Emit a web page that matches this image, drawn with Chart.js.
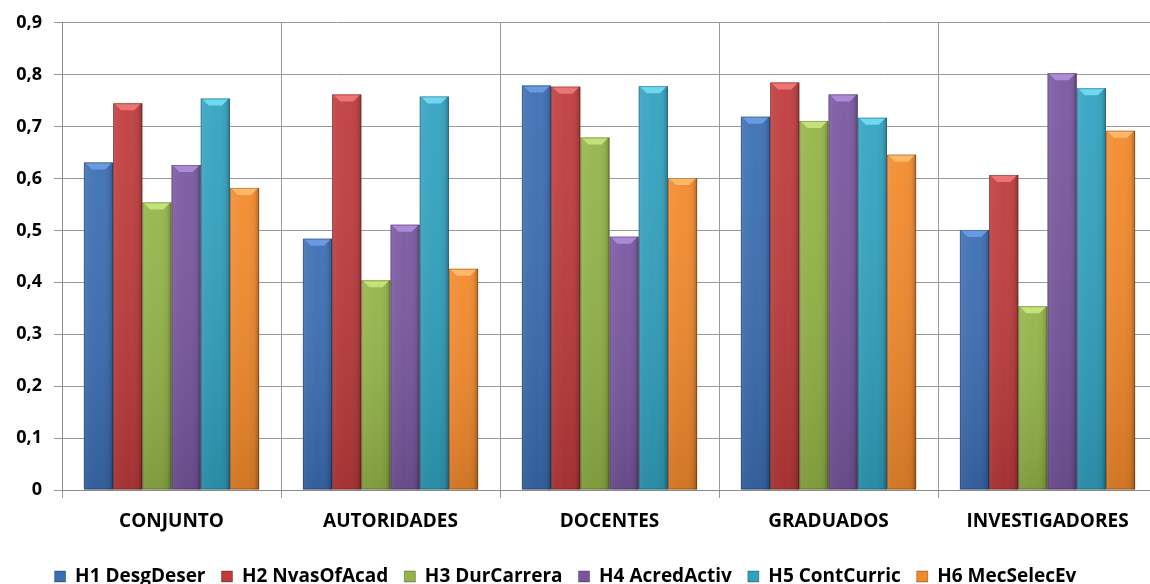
<!DOCTYPE html>
<html>
<head>
<meta charset="utf-8">
<script src="https://cdn.jsdelivr.net/npm/chart.js@4/dist/chart.umd.min.js"></script>
<style>
  html, body { margin: 0; padding: 0; background: #fff; overflow: hidden; }
  #wrap { width: 1158px; height: 584px; }
</style>
</head>
<body>
<div id="wrap"><canvas id="c" width="1158" height="584"></canvas></div>
<script>
// Grupos evaluados
const categories = ['CONJUNTO', 'AUTORIDADES', 'DOCENTES', 'GRADUADOS', 'INVESTIGADORES'];

// Series (una por hipótesis)
const seriesNames = ['H1 DesgDeser', 'H2 NvasOfAcad', 'H3 DurCarrera', 'H4 AcredActiv', 'H5 ContCurric', 'H6 MecSelecEv'];
const h1 = [0.631, 0.484, 0.779, 0.719, 0.501];
const h2 = [0.745, 0.762, 0.777, 0.785, 0.607];
const h3 = [0.554, 0.404, 0.679, 0.711, 0.354];
const h4 = [0.626, 0.511, 0.488, 0.762, 0.803];
const h5 = [0.754, 0.758, 0.778, 0.717, 0.774];
const h6 = [0.582, 0.426, 0.601, 0.646, 0.692];

// Ticks del eje Y
const yTicks = [0, 0.1, 0.2, 0.3, 0.4, 0.5, 0.6, 0.7, 0.8, 0.9];

const seriesValues = [h1, h2, h3, h4, h5, h6];
const palette = [
  { base: '#3a6db3', light: '#6a9ae0' },
  { base: '#bf3a3b', light: '#ec7474' },
  { base: '#93b447', light: '#c3e27a' },
  { base: '#78569f', light: '#ab8ad6' },
  { base: '#30a2c0', light: '#6ed8f0' },
  { base: '#f3892a', light: '#ffb868' }
];

// Relieve de las barras: bisel superior y sombreado lateral
const bevel = {
  id: 'bevel',
  afterDatasetsDraw(chart) {
    const ctx = chart.ctx;
    chart.data.datasets.forEach((ds, i) => {
      const meta = chart.getDatasetMeta(i);
      if (meta.hidden) return;
      const col = palette[i];
      meta.data.forEach(bar => {
        const p = bar.getProps(['x', 'y', 'base', 'width'], true);
        const l = p.x - p.width / 2, r = p.x + p.width / 2;
        const top = p.y, bot = p.base;
        ctx.save();
        // horizontal shading
        const gh = ctx.createLinearGradient(l, 0, r, 0);
        gh.addColorStop(0, 'rgba(255,255,255,0.10)');
        gh.addColorStop(0.12, 'rgba(255,255,255,0.04)');
        gh.addColorStop(0.5, 'rgba(255,255,255,0)');
        gh.addColorStop(0.85, 'rgba(0,0,0,0.05)');
        gh.addColorStop(1, 'rgba(0,0,0,0.28)');
        ctx.fillStyle = gh;
        ctx.fillRect(l, top, r - l, bot - top);
        // vertical shading
        const gv = ctx.createLinearGradient(0, top, 0, bot);
        gv.addColorStop(0, 'rgba(255,255,255,0.06)');
        gv.addColorStop(1, 'rgba(0,0,0,0.14)');
        ctx.fillStyle = gv;
        ctx.fillRect(l, top, r - l, bot - top);
        // top bevel
        const d = Math.min(7, (r - l) / 4);
        ctx.fillStyle = col.light;
        ctx.beginPath();
        ctx.moveTo(l + 1, top);
        ctx.lineTo(r - 1, top);
        ctx.lineTo(r - d - 1, top + d);
        ctx.lineTo(l + d + 1, top + d);
        ctx.closePath();
        ctx.fill();
        // outline
        ctx.strokeStyle = 'rgba(0,0,0,0.25)';
        ctx.lineWidth = 1;
        ctx.strokeRect(l + 0.5, top + 0.5, r - l - 1, bot - top - 1);
        ctx.restore();
      });
    });
  }
};

// Centra la leyenda sobre la parte visible del lienzo
const legendShift = {
  id: 'legendShift',
  afterLayout(chart) {
    const lg = chart.legend;
    if (!lg) return;
    lg.left -= 13;
    lg.right -= 13;
  }
};

const datasets = seriesNames.map((name, i) => ({
  label: name,
  data: seriesValues[i],
  backgroundColor: palette[i].base,
  borderWidth: 0,
  categoryPercentage: 0.8,
  barPercentage: 1.0
}));

const fontFam = "'Open Sans', 'Noto Sans', sans-serif";

new Chart(document.getElementById('c'), {
  type: 'bar',
  data: { labels: categories, datasets },
  plugins: [bevel, legendShift],
  options: {
    responsive: false,
    animation: false,
    layout: { padding: { top: 14, right: 1, left: 0, bottom: -12 } },
    plugins: {
      tooltip: { enabled: false },
      legend: {
        position: 'bottom',
        labels: {
          boxWidth: 11,
          boxHeight: 11,
          padding: 16,
          color: '#000',
          font: { family: fontFam, size: 19, weight: 'bold' },
          generateLabels(chart) {
            return chart.data.datasets.map((ds, i) => ({
              text: ds.label,
              fillStyle: palette[i].base,
              strokeStyle: 'rgba(0,0,0,0.3)',
              lineWidth: 1,
              datasetIndex: i,
              hidden: false
            }));
          }
        }
      }
    },
    scales: {
      x: {
        offset: true,
        grid: { offset: true, color: '#9a9a9a', lineWidth: 1, tickLength: 8, drawOnChartArea: true },
        border: { color: '#8a8a8a' },
        ticks: { color: '#000', padding: 12, font: { family: fontFam, size: 19, weight: 'bold' } },
        afterFit(scale) { scale.height = 61; }
      },
      y: {
        min: 0,
        max: 0.9,
        afterBuildTicks(scale) { scale.ticks = yTicks.map(v => ({ value: v })); },
        grid: { color: '#9a9a9a', lineWidth: 1, tickLength: 8 },
        border: { color: '#8a8a8a' },
        ticks: {
          color: '#000',
          padding: 12,
          font: { family: fontFam, size: 18, weight: 'bold' },
          callback: v => v === 0 ? '0' : v.toFixed(1).replace('.', ',')
        },
        afterFit(scale) { scale.width = 62; }
      }
    }
  }
});
</script>
</body>
</html>
